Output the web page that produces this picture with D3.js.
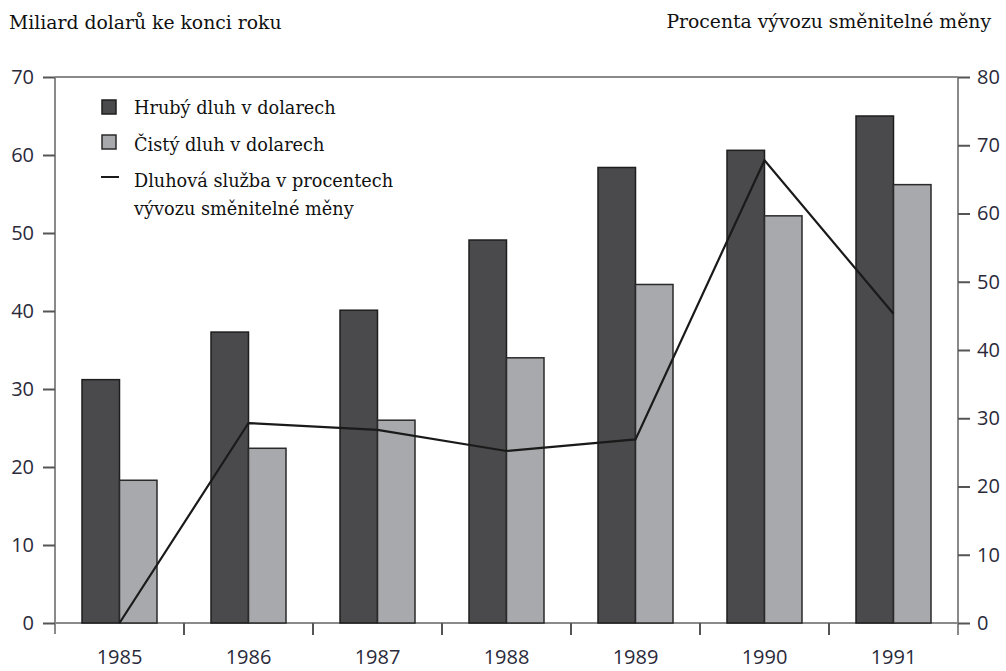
<!DOCTYPE html>
<html><head><meta charset="utf-8">
<script src="https://cdn.jsdelivr.net/npm/d3@7"></script>
<style>
html,body{margin:0;padding:0;background:#fff;}
svg{display:block;}
.serif{font-family:"DejaVu Serif",serif;font-size:18.8px;fill:#111;}
.legend{font-size:17.7px;}
.tick text{font-family:"Open Sans",sans-serif;font-size:20px;fill:#2a2a3a;}
</style></head>
<body>
<script>
const years = ["1985","1986","1987","1988","1989","1990","1991"];
const grossDebt = [31.2, 37.3, 40.1, 49.1, 58.4, 60.6, 65.0];
const netDebt = [18.3, 22.4, 26.0, 34.0, 43.4, 52.2, 56.2];
const debtService = [0, 29.3, 28.3, 25.2, 26.9, 67.8, 45.3];
const leftTicks = [0,10,20,30,40,50,60,70];
const rightTicks = [0,10,20,30,40,50,60,70,80];
const leftTitle = "Miliard dolarů ke konci roku";
const rightTitle = "Procenta vývozu směnitelné měny";
const legendLabels = ["Hrubý dluh v dolarech","Čistý dluh v dolarech",["Dluhová služba v procentech","vývozu směnitelné měny"]];

const W=1006,H=671;
const L=55,R=958,T=77,B=623;
const svg=d3.select("body").append("svg").attr("width",W).attr("height",H);

const x0=d3.scaleBand().domain(years).range([L,R]).padding(0);
const x1=d3.scaleBand().domain(["gross","net"]).range([0,x0.bandwidth()]).paddingInner(0).paddingOuter(0.72);
const yL=d3.scaleLinear().domain([0,70]).range([B,T]);
const yR=d3.scaleLinear().domain([0,80]).range([B,T]);

const axisCol="#8a8a8a";
svg.append("line").attr("x1",L).attr("x2",R).attr("y1",T).attr("y2",T).attr("stroke",axisCol).attr("stroke-width",2);
svg.append("line").attr("x1",L).attr("x2",L).attr("y1",T).attr("y2",634).attr("stroke",axisCol).attr("stroke-width",2);
svg.append("line").attr("x1",R).attr("x2",R).attr("y1",T).attr("y2",635).attr("stroke",axisCol).attr("stroke-width",2);
svg.append("line").attr("x1",L).attr("x2",R).attr("y1",B).attr("y2",B).attr("stroke",axisCol).attr("stroke-width",2);

const gL=svg.append("g").attr("transform",`translate(${L},0)`)
  .call(d3.axisLeft(yL).tickValues(leftTicks).tickSize(12).tickPadding(9).tickFormat(d3.format("d")));
const gR=svg.append("g").attr("transform",`translate(${R},0)`)
  .call(d3.axisRight(yR).tickValues(rightTicks).tickSize(12).tickPadding(7).tickFormat(d3.format("d")));
[gL,gR].forEach(g=>{
  g.select(".domain").remove();
  g.selectAll(".tick line").attr("stroke","#555").attr("stroke-width",2);
});
const gB=svg.append("g").attr("transform",`translate(0,${B})`)
  .call(d3.axisBottom(x0).tickSize(0).tickPadding(27));
gB.select(".domain").remove();
svg.append("g").selectAll("line").data(years.slice(1)).join("line")
  .attr("x1",d=>x0(d)).attr("x2",d=>x0(d)).attr("y1",B).attr("y2",635)
  .attr("stroke","#555").attr("stroke-width",2);

const series=[{key:"gross",vals:grossDebt,fill:"#4a4a4c",stroke:"#1e1e1e"},{key:"net",vals:netDebt,fill:"#a8a9ac",stroke:"#2a2a2a"}];
series.forEach(s=>{
  svg.append("g").selectAll("rect").data(years).join("rect")
    .attr("x",(d)=>x0(d)+x1(s.key))
    .attr("y",(d,i)=>yL(s.vals[i]))
    .attr("width",x1.bandwidth())
    .attr("height",(d,i)=>yL(0)-yL(s.vals[i]))
    .attr("fill",s.fill).attr("stroke",s.stroke).attr("stroke-width",1.5);
});

const line=d3.line().x((d,i)=>x0(years[i])+x0.bandwidth()/2).y(d=>yR(d));
svg.append("path").datum(debtService).attr("d",line).attr("fill","none").attr("stroke","#1a1a1a").attr("stroke-width",2.2);

svg.append("text").attr("class","serif").attr("x",9).attr("y",29).text(leftTitle);
svg.append("text").attr("class","serif").attr("x",991).attr("y",28).attr("text-anchor","end").text(rightTitle);

svg.append("rect").attr("x",102).attr("y",100).attr("width",14).attr("height",14).attr("fill","#4a4a4c").attr("stroke","#1e1e1e").attr("stroke-width",1.5);
svg.append("rect").attr("x",102).attr("y",135).attr("width",14).attr("height",14).attr("fill","#a8a9ac").attr("stroke","#2a2a2a").attr("stroke-width",1.5);
svg.append("line").attr("x1",101).attr("x2",119).attr("y1",177).attr("y2",177).attr("stroke","#1a1a1a").attr("stroke-width",2);
svg.append("text").attr("class","serif legend").attr("x",134).attr("y",114).text(legendLabels[0]);
svg.append("text").attr("class","serif legend").attr("x",134).attr("y",151).text(legendLabels[1]);
svg.append("text").attr("class","serif legend").attr("x",134).attr("y",187).text(legendLabels[2][0]);
svg.append("text").attr("class","serif legend").attr("x",134).attr("y",215).text(legendLabels[2][1]);
</script>
</body></html>
